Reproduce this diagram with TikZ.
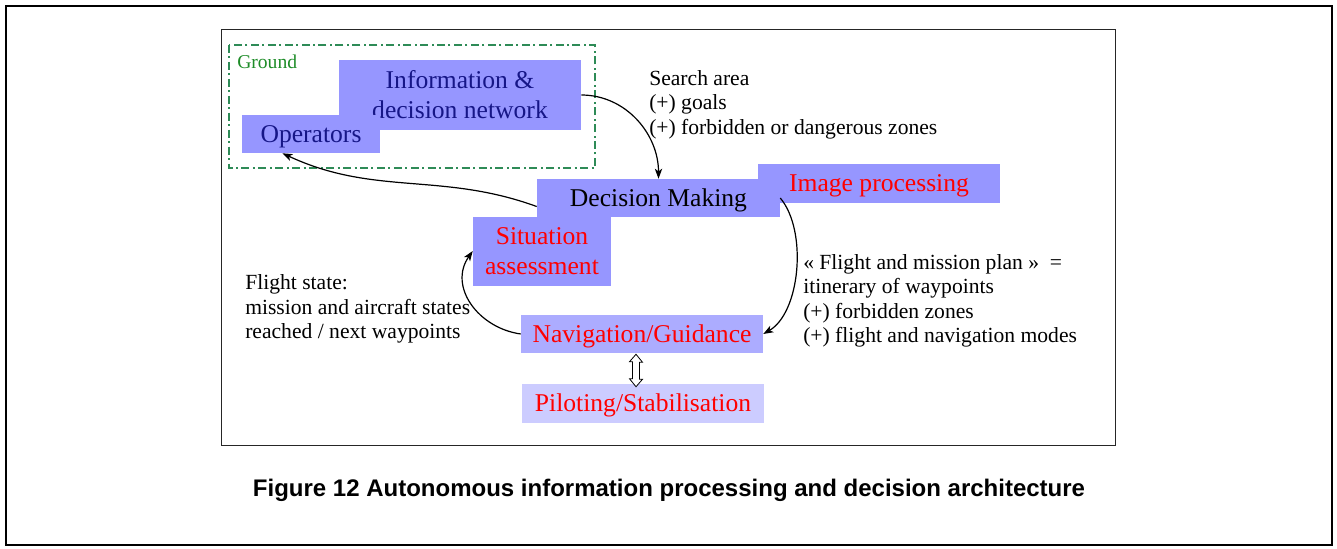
\documentclass[tikz,border=0pt]{standalone}
\usepackage{fontspec}
\setmainfont{Liberation Serif}
\newfontfamily\capfont{Liberation Sans}
\usetikzlibrary{arrows.meta,calc}
\definecolor{boxblue}{RGB}{150,150,255}
\definecolor{navblue}{RGB}{172,172,255}
\definecolor{pilblue}{RGB}{204,204,255}
\definecolor{navytext}{RGB}{22,22,135}
\definecolor{groundgreen}{RGB}{46,139,87}
\definecolor{groundtext}{RGB}{30,140,40}
\begin{document}
\begin{tikzpicture}[x=0.75pt,y=-0.75pt,
  box/.style={fill=boxblue, inner sep=0pt, align=center, font=\fontsize{19.2}{22.5}\selectfont},
  onebox/.style={box, text height=14pt, text depth=1.4pt},
  ann/.style={inner sep=0pt, align=left, anchor=west, font=\fontsize{16.2}{18.4}\selectfont},
  conn/.style={line width=0.9pt, -{Stealth[length=7.5pt,width=5.5pt,inset=2pt]}},
  hollow/.style={line width=0.6pt, fill=white, line join=miter}
]
\useasboundingbox (0,0) rectangle (1337,549);
% frames
\draw[line width=1.5pt] (6,6) rectangle (1332,545);
\draw[line width=0.75pt, black!85] (221,30) rectangle (1115,445);
\draw[groundgreen, line width=1.4pt, dash pattern=on 6pt off 2.6pt on 1.5pt off 2.6pt] (229,45) rectangle (595,168);
\node[inner sep=0pt, anchor=west, text=groundtext, font=\fontsize{14.7}{17}\selectfont] (gl) at (237,62) {Ground};
% boxes
\node[box, minimum width=181.5pt, minimum height=52.5pt, text=navytext] (info) at (460,95) {Information \&\\decision network};
\node[onebox, minimum width=103.5pt, minimum height=28.5pt, text=navytext] (ops) at (311,134) {Operators};
\node[onebox, minimum width=182.25pt, minimum height=28.5pt, text=black] (dec) at (658.5,198) {Decision Making};
\node[onebox, minimum width=181.5pt, minimum height=29.25pt, text=red] (img) at (879,183.5) {Image processing};
\node[box, minimum width=103.5pt, minimum height=51.75pt, text=red] (sit) at (542,251) {Situation\\assessment};
\node[onebox, fill=navblue, minimum width=181.5pt, minimum height=28.5pt, text=red] (nav) at (642,334) {Navigation/Guidance};
\node[onebox, fill=pilblue, minimum width=181.5pt, minimum height=29.25pt, text=red] (pil) at (643,403.5) {Piloting/Stabilisation};
% annotations
\node[ann] (search) at (649,104.5) {Search area\\(+) goals\\(+) forbidden or dangerous zones};
\node[ann] (plan) at (803,301) {«~Flight and mission plan~»~~=\\itinerary of waypoints\\(+) forbidden zones\\(+) flight and navigation modes};
\node[ann] (state) at (245,309) {Flight state:\\mission and aircraft states\\reached / next waypoints};
\node[inner sep=0pt, font=\capfont\bfseries\fontsize{18}{21}\selectfont] (cap) at (669,490) {Figure 12 Autonomous information processing and decision architecture};
% connectors
\draw[conn] (info.east) to[out=0,in=90] (dec.north);
\draw[conn] (dec.184) to[out=160,in=-25] (ops.214);
\draw[conn] (dec.east) to[out=-50,in=30,looseness=0.8] (nav.east);
\draw[conn] (nav.west) to[out=172,in=-125,looseness=1.15] (sit.west);
\coordinate (dtop) at ($(nav.south)+(-6,1)$);
\coordinate (dbot) at ($(pil.north)+(-7,3)$);
\draw[hollow] (dtop) -- ++(6.5,8) -- ++(-3,0) -- ++(0,17) -- ++(3,0) -- (dbot)
  -- ++(-6.5,-8) -- ++(3,0) -- ++(0,-17) -- ++(-3,0) -- cycle;
\end{tikzpicture}
\end{document}
